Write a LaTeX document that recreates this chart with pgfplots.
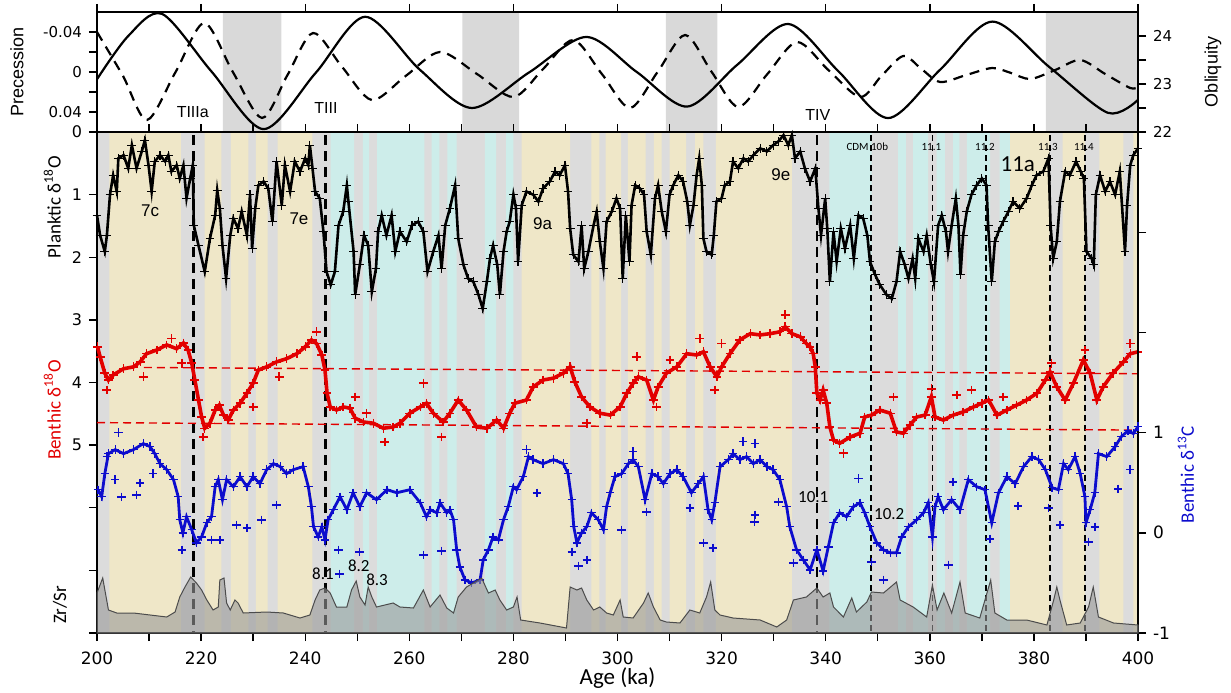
\documentclass[border=0pt]{standalone}
\usepackage{pgfplots}
\pgfplotsset{compat=1.18}
\usepackage{pgfplotstable}
\usepackage{fontspec}
\setmainfont{Liberation Sans}
\newfontfamily\calib{Carlito}
\newfontfamily\tickfont{DejaVu Sans}

\definecolor{beigebg}{RGB}{239,231,200}
\definecolor{cyanbg}{RGB}{205,237,234}
\definecolor{graybg}{RGB}{220,220,220}
\definecolor{topgray}{RGB}{217,217,217}
\definecolor{benred}{RGB}{226,0,0}
\definecolor{benblue}{RGB}{12,12,205}

% planktic d18O (per mil)
\pgfplotstableread{
x y
200.0 1.33
200.6 1.65
201.5 1.91
201.9 1.65
202.5 1.00
203.1 0.69
203.8 0.95
204.1 0.42
205.1 0.37
206.0 0.58
206.7 0.21
207.6 0.58
208.6 0.31
209.2 0.13
209.9 0.53
210.5 0.95
211.1 0.47
212.1 0.37
213.1 0.47
213.7 0.37
214.3 0.63
215.3 0.53
215.9 0.74
216.6 0.53
217.2 1.06
217.9 0.74
218.4 0.53
218.6 1.49
219.5 1.81
220.7 2.23
221.7 1.70
222.7 1.33
223.1 0.93
223.6 1.22
224.1 1.81
224.8 2.34
225.6 1.65
226.2 1.38
227.1 1.54
227.8 1.27
228.8 1.65
229.4 1.00
229.8 1.86
230.4 1.22
231.0 0.85
232.0 0.79
232.9 0.90
233.7 1.43
234.5 0.47
235.5 1.17
236.1 0.53
237.1 0.95
238.0 0.47
239.0 0.63
240.0 0.42
240.6 0.53
240.9 0.21
241.4 0.58
241.9 0.95
242.8 1.06
243.5 1.59
244.1 2.23
244.9 2.44
245.7 2.23
246.4 1.49
247.3 1.27
248.0 0.85
248.3 1.11
249.3 1.91
249.6 2.60
250.5 2.12
251.3 1.65
252.1 1.81
252.8 2.55
253.6 2.18
254.0 1.59
254.7 1.33
255.6 1.65
256.6 1.33
257.3 1.91
258.2 1.59
259.5 1.75
260.5 1.49
261.7 1.43
262.7 1.59
263.5 2.23
264.6 1.91
265.6 1.65
266.2 2.18
266.9 1.49
267.8 1.22
268.8 0.85
269.4 1.70
270.4 2.12
271.3 2.34
272.3 2.39
273.3 2.60
274.1 2.82
274.9 2.39
275.5 2.02
276.1 1.81
276.9 2.12
277.4 2.60
278.1 1.91
278.7 1.59
279.3 1.43
280.0 1.00
280.5 1.22
280.9 2.07
281.6 1.17
282.5 0.95
283.8 1.00
284.8 1.11
285.7 0.90
287.0 0.79
288.0 0.63
288.9 0.69
289.9 0.53
290.5 0.95
290.9 1.54
291.5 1.96
292.5 2.07
293.1 1.49
293.6 2.18
294.4 1.91
295.4 1.49
296.0 1.27
296.6 1.75
297.3 2.18
297.9 1.43
298.9 1.27
299.8 1.06
300.5 1.22
301.0 2.34
301.6 1.33
302.3 2.07
302.7 1.17
303.4 0.85
304.3 0.90
305.1 1.00
305.6 1.59
306.4 1.96
307.2 1.06
307.8 0.85
308.5 1.27
309.3 1.59
310.0 1.00
310.7 0.85
311.7 0.69
312.6 0.79
313.4 1.11
313.9 1.49
314.6 1.17
315.2 0.69
315.7 0.42
316.2 0.85
316.5 1.70
317.1 1.91
318.1 1.96
318.5 1.65
319.0 1.11
320.0 1.06
320.6 0.85
321.6 0.79
322.2 0.47
323.2 0.58
324.2 0.42
325.1 0.47
326.1 0.37
327.4 0.26
328.7 0.31
329.9 0.21
330.9 0.15
331.9 0.05
332.8 0.21
333.5 0.05
334.1 0.42
335.1 0.31
336.0 0.58
337.0 0.79
338.0 0.58
338.6 1.22
339.1 1.65
339.9 1.06
340.3 1.54
340.8 2.39
341.5 1.59
342.1 2.07
342.9 1.54
343.7 1.86
344.7 1.49
345.4 2.02
346.3 1.33
347.2 1.38
348.0 1.65
348.5 2.07
349.5 2.28
350.4 2.44
351.7 2.60
352.7 2.66
353.6 2.39
354.3 1.91
355.2 2.12
355.9 2.34
356.7 2.02
357.2 2.34
357.8 1.70
358.8 1.91
359.4 1.65
360.2 2.12
360.8 2.39
361.6 1.49
362.3 1.33
363.1 1.59
363.5 1.91
364.2 1.49
365.0 1.06
365.5 1.49
365.9 2.28
366.4 1.65
367.1 1.27
368.0 1.00
369.0 0.85
370.0 0.74
370.9 0.85
371.2 1.49
371.9 2.39
372.5 1.75
373.2 1.59
374.1 1.43
375.1 1.27
376.0 1.11
377.3 1.22
378.6 1.06
379.6 0.85
380.5 0.69
381.8 0.63
382.8 0.42
383.2 1.49
383.7 2.02
384.4 1.75
385.0 1.11
386.0 0.63
386.9 0.69
388.1 0.47
389.0 0.63
389.6 0.74
390.1 1.91
391.1 2.02
391.5 2.12
391.9 1.00
392.7 0.69
393.7 0.95
394.6 0.79
395.6 1.00
396.5 0.63
397.5 1.91
397.9 1.17
398.5 0.53
399.1 0.37
400.0 0.26
}\planktic

% benthic d18O
\pgfplotstableread{
x y
200.1 3.43
200.6 3.59
201.5 3.85
202.2 3.96
203.1 3.88
205.1 3.78
207.0 3.75
208.3 3.67
209.5 3.54
211.5 3.48
213.4 3.40
215.3 3.46
216.6 3.37
217.5 3.48
218.2 3.69
218.8 3.96
219.5 4.28
220.1 4.55
220.7 4.73
221.7 4.65
222.7 4.44
223.5 4.36
224.3 4.52
225.2 4.60
226.2 4.44
227.5 4.33
228.8 4.17
230.0 4.01
231.0 3.80
232.6 3.75
234.5 3.67
236.4 3.62
238.4 3.54
240.0 3.43
241.2 3.32
242.2 3.38
243.2 3.56
243.8 3.80
244.2 4.17
244.8 4.39
246.0 4.44
247.3 4.39
248.6 4.41
249.6 4.57
251.2 4.63
253.1 4.65
255.0 4.73
256.9 4.71
258.2 4.65
260.1 4.49
262.1 4.39
263.3 4.33
264.6 4.49
266.5 4.63
267.8 4.49
269.4 4.28
271.0 4.44
272.9 4.71
274.9 4.73
276.8 4.60
278.1 4.73
279.3 4.49
280.3 4.33
282.5 4.28
283.8 4.07
285.7 3.96
287.7 3.93
289.6 3.85
290.9 3.75
291.8 3.99
293.1 4.23
294.7 4.39
296.6 4.49
298.6 4.52
300.5 4.39
301.8 4.17
303.0 4.01
304.0 3.91
305.6 3.96
306.9 4.28
307.8 4.07
309.4 3.85
311.4 3.75
313.3 3.54
315.2 3.56
316.5 3.51
317.8 3.75
319.1 3.91
320.0 3.75
321.6 3.54
323.5 3.32
325.5 3.22
327.4 3.24
329.3 3.22
331.2 3.19
332.2 3.11
333.5 3.22
335.1 3.27
336.3 3.38
337.0 3.43
337.6 3.54
338.0 3.75
338.3 4.17
338.9 4.28
339.5 4.12
340.2 4.33
340.8 4.71
341.5 4.92
342.7 4.97
344.7 4.87
346.6 4.81
347.5 4.55
348.8 4.52
350.4 4.44
352.4 4.49
353.6 4.79
354.9 4.81
356.2 4.68
357.5 4.55
359.1 4.52
360.3 4.23
361.0 4.55
362.6 4.60
364.5 4.52
366.4 4.47
368.4 4.39
370.0 4.33
371.3 4.28
372.9 4.52
374.8 4.44
376.7 4.36
378.6 4.28
380.6 4.17
382.2 3.96
383.1 3.83
384.4 4.07
386.0 4.28
387.6 4.01
389.5 3.64
390.8 3.85
392.1 4.28
393.3 4.07
395.2 3.85
397.2 3.67
398.5 3.54
400.0 3.51
}\benthic

\pgfplotstableread{
x y
201.9 4.12
208.9 3.91
214.3 3.30
216.3 3.69
220.4 4.87
230.0 4.39
235.0 3.91
242.2 3.19
249.6 4.23
251.8 4.49
255.3 4.95
262.7 4.01
266.2 4.87
294.1 4.65
303.7 3.59
307.5 4.39
310.1 3.64
315.8 3.30
318.7 4.12
320.0 3.38
332.2 2.92
343.4 5.13
353.0 4.23
360.3 4.10
365.2 4.20
368.0 4.12
374.1 4.23
383.4 3.69
389.8 3.48
398.5 3.38
}\benthicout

% benthic d13C
\pgfplotstableread{
x y
200.2 0.43
200.9 0.36
201.5 0.59
202.2 0.79
203.5 0.83
205.1 0.79
207.0 0.83
208.9 0.89
210.2 0.86
211.1 0.79
212.1 0.69
213.4 0.63
214.7 0.53
215.6 0.36
215.9 0.13
216.5 0.00
217.2 0.16
218.2 0.03
219.1 -0.10
220.1 -0.04
221.1 0.10
222.0 0.16
222.7 0.46
223.3 0.53
224.1 0.33
224.9 0.53
226.2 0.46
227.5 0.56
228.8 0.46
230.0 0.56
231.3 0.49
232.6 0.63
233.9 0.69
235.2 0.66
236.4 0.59
237.7 0.63
239.6 0.66
240.6 0.46
241.2 0.26
241.6 0.06
242.5 -0.04
243.2 0.06
243.8 -0.07
244.4 0.13
245.4 0.23
246.7 0.36
248.0 0.23
249.2 0.40
250.5 0.26
251.8 0.40
253.7 0.33
255.7 0.43
257.6 0.40
260.1 0.43
262.1 0.30
263.3 0.16
264.0 0.23
265.3 0.20
265.9 0.30
267.2 0.20
267.8 0.23
268.5 0.13
269.1 -0.17
269.7 -0.34
270.7 -0.47
272.0 -0.50
273.6 -0.47
274.2 -0.27
275.2 -0.17
276.1 -0.04
277.1 -0.07
278.1 0.13
279.0 0.26
280.0 0.46
280.6 0.43
281.9 0.56
282.9 0.76
283.8 0.73
285.7 0.69
287.7 0.73
289.6 0.69
290.5 0.59
291.2 0.33
291.6 0.06
292.2 -0.10
293.1 0.00
294.1 0.06
295.0 0.20
296.3 0.13
297.3 0.03
297.9 0.26
298.6 0.40
299.5 0.56
300.8 0.59
302.1 0.69
303.0 0.73
304.0 0.66
305.3 0.33
306.6 0.59
307.8 0.56
308.8 0.49
310.1 0.59
311.4 0.63
312.6 0.56
314.2 0.40
315.5 0.49
316.5 0.56
317.4 0.23
318.1 0.13
318.7 0.30
319.7 0.66
321.3 0.73
322.2 0.79
323.5 0.73
324.8 0.76
326.1 0.69
327.4 0.73
328.7 0.66
329.9 0.63
331.2 0.53
332.5 0.26
333.1 0.06
334.4 -0.17
335.7 -0.27
337.0 -0.37
338.3 -0.17
339.5 -0.38
340.5 -0.14
341.5 0.10
342.7 0.20
344.0 0.16
345.3 0.26
346.6 0.30
347.5 0.20
348.5 0.06
349.8 -0.10
351.1 -0.17
352.4 -0.20
353.6 -0.20
354.6 -0.04
355.9 0.06
357.5 0.13
358.8 0.20
359.7 0.30
360.5 -0.04
361.0 0.26
361.6 0.36
362.6 0.23
364.2 0.33
365.8 0.23
367.4 0.53
369.0 0.46
370.6 0.43
371.9 0.10
373.2 0.40
374.8 0.56
376.4 0.49
378.0 0.66
379.6 0.76
380.9 0.73
382.2 0.63
383.5 0.45
384.7 0.43
385.7 0.69
386.6 0.63
387.9 0.76
388.9 0.59
389.8 0.36
390.0 0.10
390.8 0.23
391.7 0.40
392.4 0.79
394.0 0.76
395.6 0.86
396.8 0.96
398.1 1.02
399.1 0.99
400.0 1.06
}\dthirteen

\pgfplotstableread{
x y
201.9 0.76
203.5 0.53
204.7 0.36
207.6 0.38
208.3 0.50
210.8 0.59
204.1 1.00
216.3 -0.17
222.0 -0.07
223.6 -0.07
226.8 0.08
228.8 0.05
231.6 0.13
234.5 0.28
246.4 -0.17
250.4 -0.19
246.6 -0.41
262.7 -0.22
266.2 -0.18
282.5 0.83
284.5 0.40
291.2 -0.19
292.5 -0.33
294.1 -0.27
300.8 0.03
303.0 0.81
305.6 0.21
313.9 0.25
316.5 -0.10
318.3 -0.15
324.1 0.91
326.4 0.89
326.3 0.11
326.4 0.18
330.9 0.31
333.8 -0.30
346.3 0.54
348.8 -0.29
351.1 -0.47
363.6 -0.32
364.5 0.51
371.6 -0.06
377.0 0.27
382.8 0.25
385.0 0.08
390.5 -0.09
391.7 0.06
396.2 0.44
398.5 0.63
}\dthirteenout

% Zr/Sr (height above the base of the panel, arbitrary units)
\pgfplotstableread{
x y
200.0 40
201.1 55
202.2 23
203.8 20
207.0 20
210.2 18
213.4 16
215.0 21
215.9 36
216.9 46
218.0 56
219.1 50
220.1 43
221.1 33
222.3 23
223.3 26
223.6 53
224.4 55
224.9 30
225.6 23
226.5 33
227.1 30
228.1 20
232.6 21
235.8 20
239.0 15
240.9 18
241.9 33
242.8 43
243.8 45
244.8 40
246.0 26
248.0 26
248.9 43
249.8 52
250.5 36
251.5 28
252.1 46
252.8 36
253.7 26
256.9 30
258.2 26
260.8 25
262.7 43
264.0 26
265.9 38
267.2 25
268.5 20
269.4 36
271.0 46
273.9 55
275.2 40
276.5 43
277.4 33
278.7 23
280.0 26
280.7 36
281.4 13
285.1 10
290.2 5
290.9 46
292.2 43
293.1 45
294.1 33
295.4 23
296.6 26
297.9 20
299.2 18
300.5 33
301.1 16
303.0 15
305.0 30
305.9 40
306.9 26
308.2 13
309.4 11
312.0 10
313.9 23
315.8 20
317.1 36
317.9 51
318.7 23
319.7 18
322.2 15
327.4 13
330.6 6
332.5 13
333.8 33
336.3 36
338.3 45
339.5 36
340.8 40
341.5 26
343.4 16
345.0 35
345.9 21
347.9 31
348.8 41
351.1 40
353.6 51
354.3 33
356.8 26
359.4 16
360.5 48
361.4 23
362.7 40
364.2 20
365.8 51
366.8 20
369.6 15
371.7 53
372.5 20
374.8 13
378.6 13
382.5 8
383.8 33
384.4 46
385.0 33
386.3 8
388.9 10
390.5 26
391.4 46
392.4 16
395.3 10
400.0 8
}\zrsr

\pgfplotsset{
  panel/.style={at={(48.5pt,29.5pt)}, anchor=south west, scale only axis,
    width=520.5pt, height=250.5pt, xmin=200, xmax=400, clip=false},
  toppanel/.style={at={(48.5pt,280pt)}, anchor=south west, scale only axis,
    width=520.5pt, height=60pt, xmin=200, xmax=400, clip=false},
  frame/.style={axis line style={-, line width=0.8pt}, tick style={black, line width=0.7pt},
    major tick length=4pt, minor tick length=4pt,
    /pgf/number format/assume math mode=true},
}

\begin{document}
\begin{tikzpicture}
\path[use as bounding box] (0,0) rectangle (615.5pt,346pt);

% background bands of the main panel
\begin{axis}[panel, hide axis, ymin=0, ymax=1]
\addplot[ybar interval, fill=graybg, draw=none] coordinates {(200,1)(400,1)};
\addplot[ybar interval, fill=beigebg, draw=none] coordinates {
(202.4,1)(216.1,0)(220.7,1)(223.9,0)(225.7,1)(229.1,0)(230.5,1)(232.8,0)(234.7,1)(241.4,0)
(281.6,1)(290.9,0)(295.0,1)(296.5,0)(297.7,1)(300.7,0)(302.0,1)(305.4,0)(307.0,1)(308.5,0)
(310.0,1)(313.2,0)(314.9,1)(316.5,0)(318.9,1)(333.5,0)(375.4,1)(383.0,0)(385.5,1)(389.8,0)
(392.6,1)(397.2,0)(399.1,1)(400,0)};
\addplot[ybar interval, fill=cyanbg, draw=none] coordinates {
(244.9,1)(249.4,0)(251.1,1)(252.3,0)(253.8,1)(262.9,0)(264.3,1)(265.8,0)(267.3,1)(269.1,0)
(274.5,1)(276.7,0)(278.6,1)(280.0,0)(340.7,1)(348.8,0)(353.9,1)(355.4,0)(356.8,1)(359.7,0)
(361.3,1)(362.9,0)(364.5,1)(365.7,0)(367.1,1)(371.6,0)(373.4,1)(375.4,0)};
\end{axis}

% d18O axis (left)
\begin{axis}[panel, frame, ymin=0, ymax=8, y dir=reverse,
  axis x line*=bottom, axis y line*=left, tick align=outside,
  xtick={200,220,...,400}, minor xtick={210,230,...,390},
  ytick={0,...,8}, yticklabels={0,1,2,3,4,5,{},{},{}},
  xticklabel style={font=\tickfont\fontsize{8.5}{9}\selectfont, yshift=-2pt},
  yticklabel style={font=\tickfont\fontsize{8}{9}\selectfont}]
\addplot[black, line width=1.3pt, dash pattern=on 5pt off 3pt] coordinates {(218.5,0.05)(218.5,8)};
\addplot[black, line width=1.3pt, dash pattern=on 5pt off 3pt] coordinates {(243.9,0.05)(243.9,8)};
\addplot[black, line width=1.3pt, dash pattern=on 5pt off 3pt] coordinates {(338.3,0.05)(338.3,8)};
\addplot[black, line width=0.6pt, dash pattern=on 3pt off 2pt] coordinates {(348.7,0.05)(348.7,8)};
\addplot[black, line width=0.6pt, dash pattern=on 3pt off 2pt] coordinates {(360.5,0.05)(360.5,8)};
\addplot[black, line width=0.6pt, dash pattern=on 3pt off 2pt] coordinates {(370.8,0.05)(370.8,8)};
\addplot[black, line width=0.6pt, dash pattern=on 3pt off 2pt] coordinates {(383.1,0.05)(383.1,8)};
\addplot[black, line width=0.6pt, dash pattern=on 3pt off 2pt] coordinates {(389.8,0.05)(389.8,8)};
\addplot[benred, line width=0.7pt, dash pattern=on 4pt off 2.5pt] coordinates {(209,3.76)(400,3.86)};
\addplot[benred, line width=0.7pt, dash pattern=on 4pt off 2.5pt] coordinates {(200,4.64)(400,4.76)};
\addplot[black, line width=1.3pt, mark=+, mark size=2.2pt, mark options={black, line width=0.6pt}] table {\planktic};
\addplot[benred, line width=1.8pt, mark=+, mark size=2.2pt, mark options={draw=benred, line width=0.7pt}] table {\benthic};
\addplot[benred, only marks, mark=+, mark size=2.2pt, mark options={draw=benred, line width=0.8pt}] table {\benthicout};
\node[font=\fontsize{8.5}{9}\selectfont] at (axis cs:210.2,1.26) {7c};
\node[font=\fontsize{8.5}{9}\selectfont] at (axis cs:238.8,1.38) {7e};
\node[font=\fontsize{8.5}{9}\selectfont] at (axis cs:285.6,1.47) {9a};
\node[font=\fontsize{8.5}{9}\selectfont] at (axis cs:331.4,0.68) {9e};
\node[font=\calib\fontsize{11.5}{12}\selectfont] at (axis cs:376.9,0.51) {11a};
\node[font=\calib\fontsize{5.5}{6}\selectfont] at (axis cs:348.0,0.24) {CDM 10b};
\node[font=\calib\fontsize{5.5}{6}\selectfont] at (axis cs:360.3,0.24) {11.1};
\node[font=\calib\fontsize{5.5}{6}\selectfont] at (axis cs:370.6,0.24) {11.2};
\node[font=\calib\fontsize{5.5}{6}\selectfont] at (axis cs:382.7,0.24) {11.3};
\node[font=\calib\fontsize{5.5}{6}\selectfont] at (axis cs:389.6,0.24) {11.4};
\node[font=\calib\fontsize{9.5}{10}\selectfont, rotate=90] at (axis cs:191.4,1.2) {Planktic δ\textsuperscript{18}O};
\node[font=\calib\fontsize{9.5}{10}\selectfont, rotate=90, text=benred] at (axis cs:191.4,4.44) {Benthic δ\textsuperscript{18}O};
\node[font=\calib\fontsize{9.5}{10}\selectfont, rotate=90] at (axis cs:192.9,7.55) {Zr/Sr};
\node[font=\calib\fontsize{11.5}{12}\selectfont] at (axis cs:300,8.72) {Age (ka)};
\end{axis}

% d13C axis (right)
\begin{axis}[panel, frame, ymin=-1, ymax=4, axis y line*=right, axis x line=none,
  tick align=outside, ytick={-1,0,1,2,3}, yticklabels={-1,0,1,{},{}},
  yticklabel style={font=\tickfont\fontsize{8.5}{9}\selectfont}]
\addplot[benblue, line width=1.4pt, mark=+, mark size=2.1pt, mark options={draw=benblue, line width=0.7pt}] table {\dthirteen};
\addplot[benblue, only marks, mark=+, mark size=2.1pt, mark options={draw=benblue, line width=0.8pt}] table {\dthirteenout};
\node[font=\calib\fontsize{8.5}{9}\selectfont] at (axis cs:337.6,0.36) {10.1};
\node[font=\calib\fontsize{8.5}{9}\selectfont] at (axis cs:352.2,0.19) {10.2};
\node[font=\calib\fontsize{8.5}{9}\selectfont] at (axis cs:243.4,-0.41) {8.1};
\node[font=\calib\fontsize{8.5}{9}\selectfont] at (axis cs:250.3,-0.33) {8.2};
\node[font=\calib\fontsize{8.5}{9}\selectfont] at (axis cs:253.8,-0.47) {8.3};
\node[font=\calib\fontsize{9.5}{10}\selectfont, rotate=90, text=benblue] at (axis cs:409.2,0.58) {Benthic δ\textsuperscript{13}C};
\end{axis}

% Zr/Sr
\begin{axis}[panel, hide axis, ymin=0, ymax=501]
\addplot[draw=black!70, line width=0.5pt, fill=gray!80, fill opacity=0.6] table {\zrsr} \closedcycle;
\end{axis}

% top panel: shaded intervals
\begin{axis}[toppanel, hide axis, ymin=0, ymax=1]
\addplot[ybar interval, fill=topgray, draw=none] coordinates {
(224.2,1)(235.4,0)(270.2,1)(281.1,0)(309.3,1)(319.2,0)(382.3,1)(400,0)};
\end{axis}

% precession (left, reversed)
\begin{axis}[toppanel, frame, ymin=-0.06, ymax=0.06, y dir=reverse,
  scaled y ticks=false,
  xtick={200,210,...,400}, xticklabels={}, xtick pos=left, xtick align=inside,
  ytick={-0.04,-0.02,0,0.02,0.04}, yticklabels={-0.04,{},0,{},0.04},
  ytick pos=left, ytick align=outside,
  yticklabel style={font=\tickfont\fontsize{7.5}{8}\selectfont}]
\addplot[black, line width=1.1pt, dash pattern=on 5pt off 3.5pt, smooth] coordinates {
(200,-0.040)(205,0.004)(209.6,0.048)(215.1,0.000)(220.6,-0.049)(226.1,0.000)(231.7,0.046)
(236.6,0.003)(241.5,-0.039)(247.1,-0.005)(252.8,0.028)(259.3,0.004)(265.9,-0.020)(273,0.002)
(280,0.025)(285.7,-0.003)(291.5,-0.032)(297,0.002)(302.4,0.036)(307.7,0.000)(313,-0.037)
(318.1,0.000)(323.2,0.035)(328.8,0.002)(334.5,-0.030)(340.5,-0.002)(346.6,0.025)(350.7,0.004)
(354.9,-0.016)(358.4,-0.003)(362,0.010)(367,0.003)(372,-0.004)(375.6,0.001)(379.3,0.007)
(384.1,-0.002)(388.9,-0.012)(393.7,0.002)(398.5,0.016)(400,0.015)};
\node[font=\fontsize{8}{9}\selectfont] at (axis cs:218.4,0.040) {TIIIa};
\node[font=\fontsize{8}{9}\selectfont] at (axis cs:244,0.036) {TIII};
\node[font=\fontsize{8}{9}\selectfont] at (axis cs:338.5,0.043) {TIV};
\node[font=\fontsize{9}{10}\selectfont, rotate=90] at (axis cs:184.6,0) {Precession};
\end{axis}

% obliquity (right)
\begin{axis}[toppanel, frame, ymin=22, ymax=24.5,
  axis y line*=right, axis x line*=top, tick align=outside,
  xtick={200,220,...,400}, xticklabels={},
  ytick={22,22.5,23,23.5,24}, yticklabels={22,{},23,{},24},
  yticklabel style={font=\tickfont\fontsize{7.5}{8}\selectfont}]
\addplot[black, line width=1.1pt, smooth] coordinates {
(200,23.1)(206,24.0)(212.5,24.46)(222,23.26)(232,22.06)(242,23.23)(251.5,24.4)(262,23.3)
(272,22.5)(283,23.24)(294,23.98)(303.7,23.25)(313.4,22.53)(323,23.4)(332.8,24.25)(342.4,23.27)
(352,22.29)(362,23.3)(372,24.3)(383,23.35)(394.2,22.4)(400,22.67)};
\node[font=\fontsize{9}{10}\selectfont, rotate=90] at (axis cs:414.4,23.25) {Obliquity};
\end{axis}
\end{tikzpicture}
\end{document}
